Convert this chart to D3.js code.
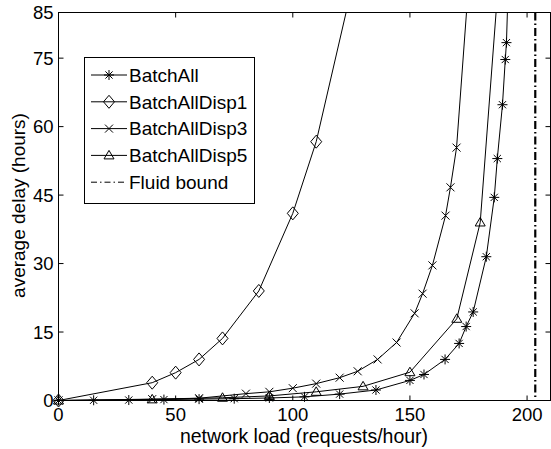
<!DOCTYPE html>
<html>
<head>
<meta charset="utf-8">
<script src="https://cdn.jsdelivr.net/npm/d3@7"></script>
<style>
body { margin: 0; background: #fff; }
text { font-family: "Liberation Sans", Arial, Helvetica, sans-serif; fill: #000; }
</style>
</head>
<body>
<svg id="chart" width="551" height="449"></svg>
<script>
// ---- data ----
const batchAllX = [0, 15, 30, 45, 60, 75, 90, 105, 120, 135.5, 150, 156, 165, 171, 174, 177, 182.6, 186, 187.3, 189.5, 190.7, 191.2, 192.5]
const batchAllY = [0, 0.05, 0.1, 0.2, 0.3, 0.4, 0.55, 0.8, 1.4, 2.3, 4.4, 5.7, 9, 12.5, 16.2, 19.4, 31.5, 44.5, 53, 64.8, 74.7, 78.4, 100]

const disp1X = [0, 40, 50, 60, 70, 85.5, 100, 110, 125]
const disp1Y = [0, 3.9, 6.1, 9, 13.6, 24, 41, 56.7, 90]

const disp3X = [0, 40, 60, 80, 90, 100, 110, 120, 127.7, 136.2, 144.3, 152, 155.4, 159.6, 165.2, 167.3, 169.9, 175]
const disp3Y = [0, 0.3, 0.5, 1.5, 1.9, 2.7, 3.7, 5, 6.4, 9, 12.7, 19.1, 23.4, 29.6, 40.5, 46.7, 55.4, 91]

const disp5X = [0, 40, 70, 90, 110, 130, 150, 170, 180, 190]
const disp5Y = [0, 0.25, 0.6, 1.0, 1.9, 3.1, 6.2, 17.9, 39, 107]

const fluidBound = 203.5

const seriesNames = ["BatchAll", "BatchAllDisp1", "BatchAllDisp3", "BatchAllDisp5"]
const seriesMarkers = ["asterisk", "diamond", "xmark", "triangle"]
const fluidName = "Fluid bound"

const xTicks = [0, 50, 100, 150, 200]
const yTicks = [0, 15, 30, 45, 60, 75, 85]
const xLabel = "network load (requests/hour)"
const yLabel = "average delay (hours)"

// ---- layout ----
const svg = d3.select("#chart")
const plotLeft = 58.5, plotRight = 550.5, plotTop = 12.5, plotBottom = 400.5

const x = d3.scaleLinear().domain([0, 210]).range([plotLeft, plotRight])
const y = d3.scaleLinear().domain([0, 85]).range([plotBottom, plotTop])

const series = [
    { name: seriesNames[0], marker: seriesMarkers[0], pts: d3.zip(batchAllX, batchAllY) },
    { name: seriesNames[1], marker: seriesMarkers[1], pts: d3.zip(disp1X, disp1Y) },
    { name: seriesNames[2], marker: seriesMarkers[2], pts: d3.zip(disp3X, disp3Y) },
    { name: seriesNames[3], marker: seriesMarkers[3], pts: d3.zip(disp5X, disp5Y) }
]

// marker shapes (MATLAB style, unfilled)
function markerPath(type) {
    if (type === "asterisk") return "M-5,0H5M0,-5V5M-3.6,-3.6L3.6,3.6M-3.6,3.6L3.6,-3.6"
    if (type === "diamond") return "M0,-6.5L5.5,0L0,6.5L-5.5,0Z"
    if (type === "xmark") return "M-4,-4L4,4M-4,4L4,-4"
    if (type === "triangle") return "M0,-5L5,3.5L-5,3.5Z"
    return ""
}

svg.append("defs").append("clipPath").attr("id", "plotclip")
    .append("rect")
    .attr("x", plotLeft).attr("y", plotTop)
    .attr("width", plotRight - plotLeft).attr("height", plotBottom - plotTop)

// frame
svg.append("rect")
    .attr("x", plotLeft).attr("y", plotTop)
    .attr("width", plotRight - plotLeft).attr("height", plotBottom - plotTop)
    .attr("fill", "none").attr("stroke", "#000").attr("stroke-width", 1)

// ticks on all four sides, pointing inward
const tickLen = 5
const tickG = svg.append("g").attr("stroke", "#000").attr("stroke-width", 1)
xTicks.forEach(v => {
    tickG.append("line").attr("x1", x(v)).attr("x2", x(v)).attr("y1", plotBottom).attr("y2", plotBottom - tickLen)
    tickG.append("line").attr("x1", x(v)).attr("x2", x(v)).attr("y1", plotTop).attr("y2", plotTop + tickLen)
})
yTicks.forEach(v => {
    tickG.append("line").attr("x1", plotLeft).attr("x2", plotLeft + tickLen).attr("y1", y(v)).attr("y2", y(v))
    tickG.append("line").attr("x1", plotRight).attr("x2", plotRight - tickLen).attr("y1", y(v)).attr("y2", y(v))
})

// tick labels
svg.append("g").selectAll("text").data(xTicks).join("text")
    .attr("x", d => x(d)).attr("y", plotBottom + 20.5)
    .attr("text-anchor", "middle")
    .style("font-size", "18.5px")
    .text(d => d)
svg.append("g").selectAll("text").data(yTicks).join("text")
    .attr("x", plotLeft - 5).attr("y", d => y(d) + 6.5)
    .attr("text-anchor", "end")
    .style("font-size", "18.5px")
    .text(d => d)

// axis labels
svg.append("text")
    .attr("x", 304).attr("y", 442.5)
    .attr("text-anchor", "middle")
    .style("font-size", "19.5px")
    .text(xLabel)
svg.append("text")
    .attr("transform", `translate(25,${(plotTop + plotBottom) / 2 - 1}) rotate(-90)`)
    .attr("text-anchor", "middle")
    .style("font-size", "19px")
    .text(yLabel)

// curves
const line = d3.line().x(d => x(d[0])).y(d => y(d[1]))
const plot = svg.append("g")
const lines = plot.append("g").attr("clip-path", "url(#plotclip)")

series.forEach(s => {
    lines.append("path")
        .attr("d", line(s.pts))
        .attr("fill", "none").attr("stroke", "#000").attr("stroke-width", 1)
    plot.append("g").selectAll("path")
        .data(s.pts.filter(p => p[1] <= 85))
        .join("path")
        .attr("transform", d => `translate(${x(d[0])},${y(d[1])})`)
        .attr("d", markerPath(s.marker))
        .attr("fill", "none").attr("stroke", "#000").attr("stroke-width", 1)
})

// fluid bound
lines.append("line")
    .attr("x1", x(fluidBound)).attr("x2", x(fluidBound))
    .attr("y1", plotTop).attr("y2", plotBottom)
    .attr("stroke", "#000").attr("stroke-width", 2.2)
    .attr("stroke-dasharray", "8,3,1.5,3")

// legend
const lg = svg.append("g")
lg.append("rect")
    .attr("x", 84.5).attr("y", 57.5).attr("width", 170).attr("height", 146)
    .attr("fill", "#fff").attr("stroke", "#000").attr("stroke-width", 1)
const rowY = i => 75 + i * 26.8
series.forEach((s, i) => {
    lg.append("line").attr("x1", 91).attr("x2", 127).attr("y1", rowY(i)).attr("y2", rowY(i))
        .attr("stroke", "#000").attr("stroke-width", 1)
    lg.append("path").attr("transform", `translate(109,${rowY(i)})`)
        .attr("d", markerPath(s.marker))
        .attr("fill", "none").attr("stroke", "#000").attr("stroke-width", 1)
    lg.append("text").attr("x", 129).attr("y", rowY(i) + 6.8)
        .style("font-size", "19px").text(s.name)
})
lg.append("line").attr("x1", 91).attr("x2", 127).attr("y1", rowY(4)).attr("y2", rowY(4))
    .attr("stroke", "#000").attr("stroke-width", 1)
    .attr("stroke-dasharray", "6,3,1.5,3")
lg.append("text").attr("x", 129).attr("y", rowY(4) + 6.8)
    .style("font-size", "19px").text(fluidName)
</script>
</body>
</html>
